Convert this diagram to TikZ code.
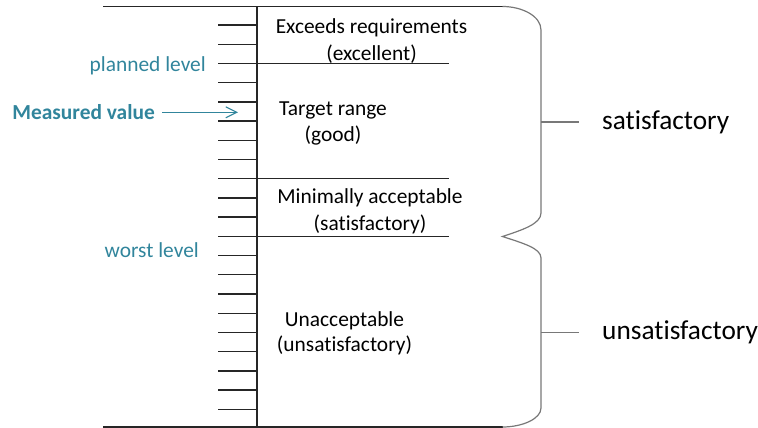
\documentclass[tikz,border=0pt]{standalone}
\usepackage{fontspec}
\setmainfont{Carlito}[Ligatures={NoCommon}]
\usetikzlibrary{arrows.meta}
\definecolor{mvblue}{RGB}{49,133,156}
\definecolor{bracegray}{RGB}{120,120,120}
\begin{document}
\begin{tikzpicture}[x=1pt,y=-1pt,
  axisline/.style={line width=1.4pt, draw=black!85},
  bracestyle/.style={line width=1.2pt, draw=bracegray},
  lbl/.style={font=\fontsize{21.4}{26.5}\selectfont, align=center, inner sep=0pt, anchor=base},
  blbl/.style={font=\fontsize{21.4}{26}\selectfont, text=mvblue, inner sep=0pt, anchor=base east},
  rlbl/.style={font=\fontsize{27.3}{32}\selectfont, inner sep=0pt, anchor=base west},
  mvarrow/.style={line width=1.1pt, draw=mvblue, -{Straight Barb[length=11pt,width=11pt]}}]
\useasboundingbox (0,0) rectangle (758,428);
% frame lines
\coordinate (tl) at (103,6.5);
\coordinate (tr) at (502.5,6.5);
\coordinate (bl) at (103,427);
\coordinate (br) at (502.5,427);
\coordinate (axtop) at (257,6.5);
\coordinate (axbot) at (257,427);
\draw[axisline] (tl) -- (tr);
\draw[axisline] (bl) -- (br);
\draw[axisline] (axtop) -- (axbot);
% ticks
\foreach \k in {0,...,20}
  \draw[axisline] (218,{25+19.215*\k}) -- (257,{25+19.215*\k});
% separators
\foreach \k in {2,8,11}
  \draw[axisline] (218,{25+19.215*\k}) -- (449,{25+19.215*\k});
% brace
\coordinate (btip) at (502.5,236.5);
\coordinate (bs) at (541,122);
\coordinate (bu) at (541,332.5);
\draw[bracestyle] (tr) .. controls (522,6.5) and (541,16) .. (541,30) -- (541,213)
  .. controls (541,224) and (522,230) .. (btip)
  .. controls (522,243) and (541,248) .. (541,258) -- (541,408)
  .. controls (541,419) and (522,427) .. (br);
% region labels (anchor = baseline of last line)
\node[lbl] (exc) at (371.5,60) {Exceeds requirements\\(excellent)};
\node[lbl] (tgt) at (333,141.5) {Target range\\(good)};
\node[lbl, font=\fontsize{21.4}{27}\selectfont] (min) at (370,230) {Minimally acceptable\\(satisfactory)};
\node[lbl, font=\fontsize{21.4}{25}\selectfont] (una) at (344.5,351.5) {Unacceptable\\(unsatisfactory)};
% blue labels
\node[blbl] (plan) at (206,71) {planned level};
\node[blbl] (worst) at (199,257) {worst level};
\node[blbl, font=\fontsize{21.4}{26}\selectfont\bfseries] (mv) at (155,119) {Measured value};
\coordinate (mvtip) at (238,112.3);
\draw[mvarrow] ([xshift=7pt]mv.east |- mvtip) -- (mvtip);
% right labels
\node[rlbl] (sat) at (602,129) {satisfactory};
\node[rlbl] (uns) at (602,339.5) {unsatisfactory};
\draw[bracestyle] (bs) -- ([xshift=-23pt]sat.west |- bs);
\draw[bracestyle] (bu) -- ([xshift=-23pt]uns.west |- bu);
\end{tikzpicture}
\end{document}
